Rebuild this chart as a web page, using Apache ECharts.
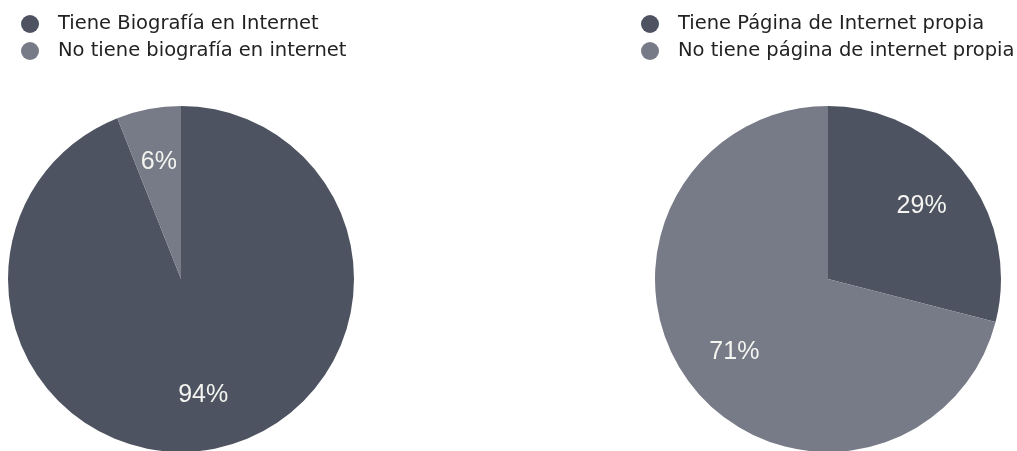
<!DOCTYPE html>
<html>
<head>
<meta charset="utf-8">
<script src="https://cdn.jsdelivr.net/npm/echarts@6/dist/echarts.min.js"></script>
<style>
  html, body { margin: 0; padding: 0; background: #fff; }
  #chart { width: 1017px; height: 451px; }
</style>
</head>
<body>
<div id="chart"></div>
<script>
  // datos de las dos tortas
  var bioNames = ['Tiene Biografía en Internet', 'No tiene biografía en internet'];
  var bioValues = [94, 6];
  var webNames = ['Tiene Página de Internet propia', 'No tiene página de internet propia'];
  var webValues = [29, 71];

  var colors = ['#4e5361', '#777b87'];
  var font = 'DejaVu Sans';

  function toData(names, values) {
    return names.map(function (n, i) {
      return { name: n, value: values[i], itemStyle: { color: colors[i] } };
    });
  }

  function legend(left, names) {
    return {
      left: left,
      top: 9,
      orient: 'vertical',
      icon: 'circle',
      itemWidth: 18,
      itemHeight: 18,
      itemGap: 7,
      selectedMode: false,
      data: names,
      textStyle: { fontFamily: font, fontSize: 19.5, color: '#222', padding: [0, 0, 0, 14] }
    };
  }

  function pie(center, names, values) {
    return {
      type: 'pie',
      center: center,
      radius: [0, 173],
      startAngle: 90,
      silent: true,
      label: { show: false },
      labelLine: { show: false },
      data: toData(names, values)
    };
  }

  // serie transparente solo para ubicar las etiquetas a ~2/3 del radio
  function labels(center, names, values) {
    return {
      type: 'pie',
      center: center,
      radius: [58, 173],
      startAngle: 90,
      silent: true,
      itemStyle: { color: 'transparent' },
      label: {
        show: true,
        position: 'inside',
        formatter: '{c}%',
        fontFamily: 'Liberation Sans',
        fontSize: 25,
        color: '#f4f4f0'
      },
      labelLine: { show: false },
      data: names.map(function (n, i) { return { name: n + ' ', value: values[i] }; })
    };
  }

  var myChart = echarts.init(document.getElementById('chart'));
  myChart.setOption({
    backgroundColor: '#ffffff',
    animation: false,
    color: colors,
    legend: [legend(16, bioNames), legend(636, webNames)],
    series: [
      pie([181, 279], bioNames, bioValues),
      pie([828, 279], webNames, webValues),
      labels([181, 279], bioNames, bioValues),
      labels([828, 279], webNames, webValues)
    ]
  });
</script>
</body>
</html>
